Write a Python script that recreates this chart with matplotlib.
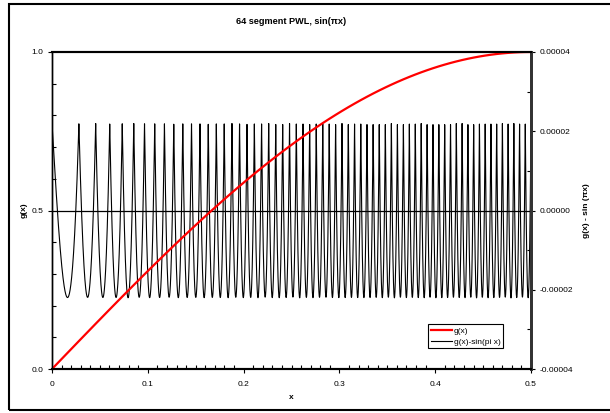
import numpy as np
import matplotlib
matplotlib.use('agg')
import matplotlib.pyplot as plt
from matplotlib.ticker import MultipleLocator, FormatStrFormatter
from matplotlib.patches import Rectangle

# breakpoints of the 64 segment piecewise linear approximation (read off the peaks)
knots = [0.00000, 0.02806, 0.04560, 0.06026, 0.07333, 0.08535, 0.09658, 0.10722,
         0.11737, 0.12711, 0.13652, 0.14563, 0.15448, 0.16311, 0.17153, 0.17977,
         0.18785, 0.19577, 0.20356, 0.21122, 0.21877, 0.22620, 0.23354, 0.24079,
         0.24795, 0.25502, 0.26203, 0.26896, 0.27583, 0.28263, 0.28937, 0.29606,
         0.30270, 0.30929, 0.31583, 0.32233, 0.32879, 0.33521, 0.34159, 0.34794,
         0.35425, 0.36054, 0.36679, 0.37302, 0.37922, 0.38540, 0.39156, 0.39769,
         0.40381, 0.40991, 0.41599, 0.42205, 0.42810, 0.43414, 0.44016, 0.44618,
         0.45218, 0.45818, 0.46417, 0.47015, 0.47612, 0.48210, 0.48807, 0.49403,
         0.50000]
ripple = 2.1957e-05   # error at each breakpoint

x_ticks = [0, 0.1, 0.2, 0.3, 0.4, 0.5]
g_ticks = [0.0, 0.5, 1.0]
err_ticks = [-0.00004, -0.00002, 0.0, 0.00002, 0.00004]

plt.rcParams['font.family'] = ['Liberation Sans', 'DejaVu Sans']
plt.rcParams['axes.unicode_minus'] = False

fig = plt.figure(figsize=(6.10, 4.13), dpi=100)
fig.patches.append(Rectangle((9 / 610, 3 / 413), 1.0, 406 / 413, transform=fig.transFigure,
                             fill=False, edgecolor='black', lw=1.5))

ax = fig.add_axes([52 / 610, 1 - 369 / 413, 479 / 610, 317 / 413])
ax2 = ax.twinx()
ax.set_zorder(ax2.get_zorder() + 1)
ax.patch.set_visible(False)

kn = np.array(knots)
g_knots = np.sin(np.pi * kn) + ripple
x = np.linspace(0, 0.5, 20001)
err = np.interp(x, kn, g_knots) - np.sin(np.pi * x)

ax.axhline(0.5, color='black', lw=0.9, zorder=0)
l1, = ax.plot(kn, g_knots, color='red', lw=1.6, label='g(x)')
l2, = ax2.plot(x, err, color='black', lw=0.8, label='g(x)-sin(pi x)')

ax.set_xlim(0, 0.5)
ax.set_ylim(0, 1)
ax2.set_ylim(-0.00004, 0.00004)

fs = 6.0
ax.set_xticks(x_ticks)
ax.set_xticklabels(['0', '0.1', '0.2', '0.3', '0.4', '0.5'])
ax.xaxis.set_minor_locator(MultipleLocator(0.01))
ax.set_yticks(g_ticks)
ax.yaxis.set_major_formatter(FormatStrFormatter('%.1f'))
ax.yaxis.set_minor_locator(MultipleLocator(0.1))
ax2.set_yticks(err_ticks)
ax2.yaxis.set_major_formatter(FormatStrFormatter('%.5f'))
ax2.yaxis.set_minor_locator(MultipleLocator(0.00001))

ax.tick_params(which='major', direction='out', length=3, width=0.8, labelsize=fs, pad=3, colors='black')
ax.tick_params(which='minor', direction='in', length=3, width=0.8)
ax.tick_params(axis='y', which='both', right=False)
ax.tick_params(axis='x', which='major', pad=6)
ax2.tick_params(which='major', direction='out', length=3, width=0.8, labelsize=fs, pad=3)
ax2.tick_params(which='minor', direction='in', length=3, width=0.8)
ax2.tick_params(axis='x', which='both', top=False, bottom=False)

for a in (ax, ax2):
    a.spines['top'].set_linewidth(1.5)
    a.spines['bottom'].set_linewidth(1.5)
    a.spines['left'].set_linewidth(1.0)
    a.spines['right'].set_linewidth(2.0)
    a.spines['right'].set_color('#333333')

ax.set_title('64 segment PWL, sin(\u03c0x)', fontsize=6.6, fontweight='bold', pad=20)
ax.set_xlabel('x', fontsize=fs, fontweight='bold', labelpad=4)
ax.set_ylabel('g(x)', fontsize=fs, fontweight='bold', labelpad=3)
ax2.set_ylabel('g(x) - sin (\u03c0x)', fontsize=fs, fontweight='bold', labelpad=7)

leg = ax.legend(handles=[l1, l2], loc='lower left', bbox_to_anchor=(0.785, 0.066),
                fontsize=fs, frameon=True, fancybox=False, framealpha=1,
                handlelength=2.6, handletextpad=0.2, borderpad=0.3, labelspacing=0.35,
                borderaxespad=0)
leg.get_frame().set_edgecolor('black')
leg.get_frame().set_linewidth(0.8)

fig.savefig('out.png', dpi=100)
